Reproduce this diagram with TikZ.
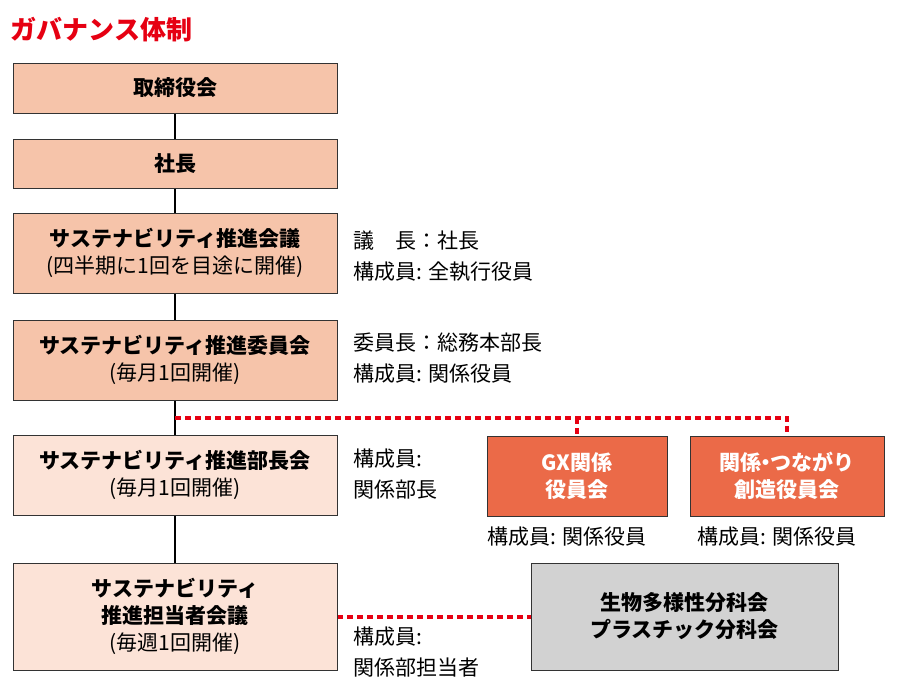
\documentclass[tikz,border=0pt]{standalone}
\usepackage{fontspec}
\setmainfont{Noto Sans CJK JP}
\definecolor{sal}{HTML}{F6C4AA}
\definecolor{lsal}{HTML}{FCE3D7}
\definecolor{org}{HTML}{EB6A48}
\definecolor{gry}{HTML}{D2D2D2}
\definecolor{rd}{HTML}{E60012}
\begin{document}
\begin{tikzpicture}[x=1pt,y=-1pt,
 box/.style={draw=black!80,line width=0.8pt,minimum height=#1,inner sep=0pt,align=center,font=\fontsize{21}{27}\selectfont\bfseries},
 lbl/.style={anchor=west,align=left,font=\fontsize{21}{31}\selectfont},
 rdot/.style={draw=rd,line width=3.2pt,dash pattern=on 6pt off 4pt}]
\useasboundingbox (0,0) rectangle (900,700);
\node[anchor=west,text=rd,font=\fontsize{26}{30}\selectfont\bfseries] (title) at (7,30) {ガバナンス体制};
\draw[line width=2.2pt] (175,113) -- (175,563);
\draw[rdot] (175,418) -- (787,418) -- (787,436);
\draw[rdot] (577,418) -- (577,436);
\draw[rdot] (337,617) -- (531,617);
\node[box=50pt,minimum width=324pt,fill=sal] (a) at (175,88) {取締役会};
\node[box=49pt,minimum width=324pt,fill=sal] (b) at (175,163.5) {社長};
\node[box=80pt,minimum width=324pt,fill=sal] (c) at (175,253) {サステナビリティ推進会議\\{\mdseries(四半期に1回を目途に開催)}};
\node[box=80pt,minimum width=324pt,fill=sal] (d) at (175,360) {サステナビリティ推進委員会\\{\mdseries(毎月1回開催)}};
\node[box=80pt,minimum width=324pt,fill=lsal] (e) at (175,475) {サステナビリティ推進部長会\\{\mdseries(毎月1回開催)}};
\node[box=107pt,minimum width=324pt,fill=lsal] (f) at (175,616.5) {サステナビリティ\\推進担当者会議\\{\mdseries(毎週1回開催)}};
\node[box=80pt,minimum width=180pt,fill=org,text=white] (g) at (577,476) {GX関係\\役員会};
\node[box=80pt,minimum width=194pt,fill=org,text=white] (h) at (787,476) {関係{\kern-0.3em}・{\kern-0.3em}つながり\\創造役員会};
\node[box=107pt,minimum width=307pt,fill=gry] (i) at (684.5,616.5) {生物多様性分科会\\プラスチック分科会};
\node[lbl] (c1) at (350,256) {議\quad 長：社長\\構成員: 全執行役員};
\node[lbl] (d1) at (350,358) {委員長：総務本部長\\構成員: 関係役員};
\node[lbl] (e1) at (350,474) {構成員:\\関係部長};
\node[lbl,anchor=north west] (g1) at (484,523) {構成員: 関係役員};
\node[lbl,anchor=north west] (h1) at (694,523) {構成員: 関係役員};
\node[lbl] (f1) at (350,652) {構成員:\\関係部担当者};
\end{tikzpicture}
\end{document}
